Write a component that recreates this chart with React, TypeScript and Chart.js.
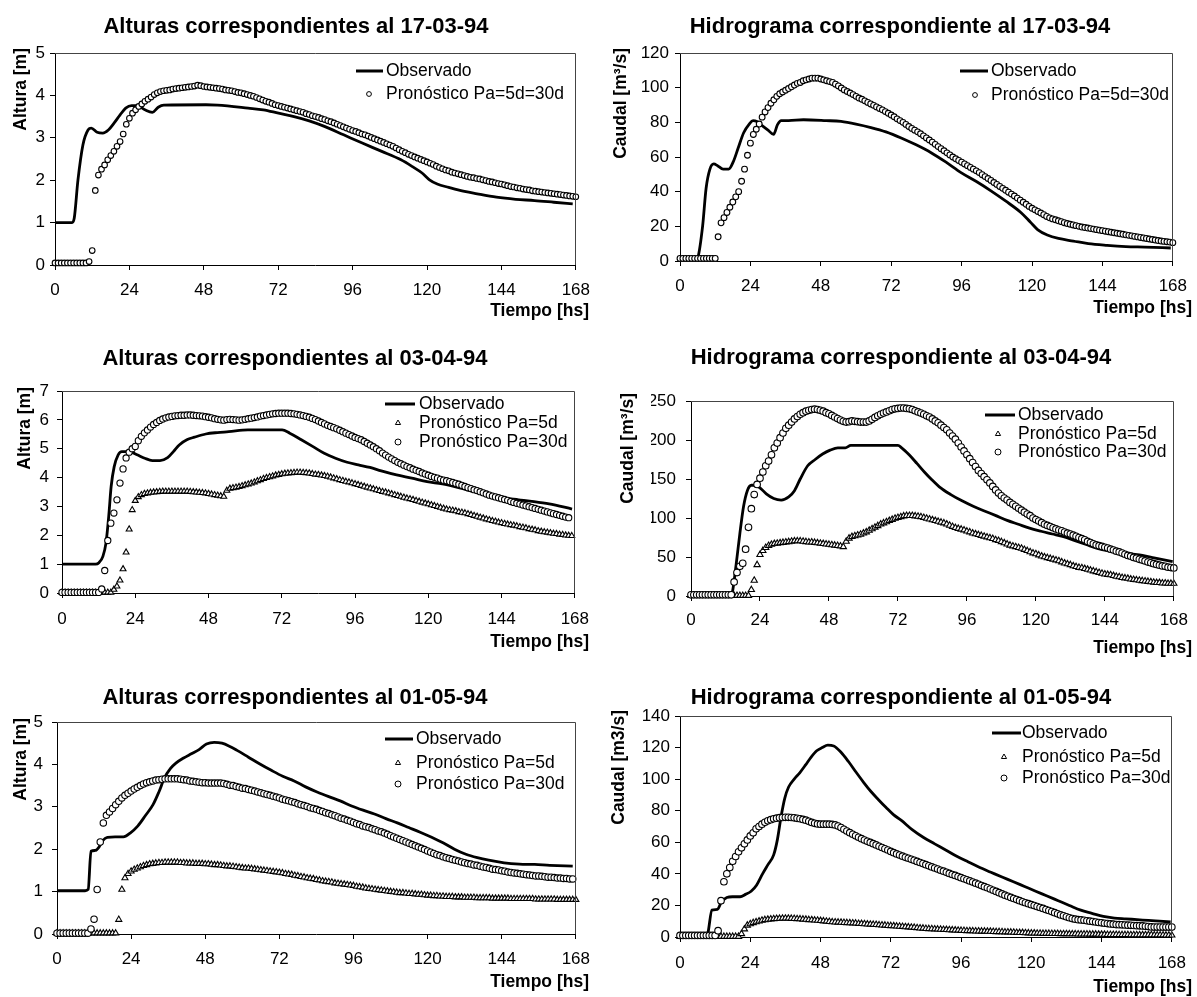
import React, { useEffect, useRef } from "react";
import { Chart, registerables } from "chart.js";

Chart.register(...registerables);

const FONT = '"Liberation Sans", Arial, Helvetica, sans-serif';

// hourly time axis (categories) used by the forecast series
const HOURS = Array.from({ length: 169 }, (_, i) => i);

const TITLES = [
  "Alturas correspondientes al 17-03-94",
  "Hidrograma correspondiente al 17-03-94",
  "Alturas correspondientes al 03-04-94",
  "Hidrograma correspondiente al 03-04-94",
  "Alturas correspondientes al 01-05-94",
  "Hidrograma correspondiente al 01-05-94",
];
const Y_TITLES = ["Altura [m]", "Caudal [m³/s]", "Altura [m]", "Caudal [m³/s]", "Altura [m]", "Caudal [m3/s]"];
const X_TITLE = "Tiempo [hs]";
const LBL_OBS = "Observado";
const LBL_BOTH = "Pronóstico Pa=5d=30d";
const LBL_5D = "Pronóstico Pa=5d";
const LBL_30D = "Pronóstico Pa=30d";

// ---------- Chart 1: Alturas 17-03-94 ----------
const obs1Hours = [0, 5.5, 6.2, 7.4, 9.0, 10.7, 11.7, 13.6, 15.4, 17.3, 19.1, 21, 22.8, 24.7, 26.5, 29, 31.4, 33.3, 35.1, 48.7, 52.4, 62.3, 67.2, 72.1, 77.1, 82, 86.9, 93.1, 99.3, 105.4, 111.6, 115.3, 118.4, 120.8, 123.3, 127, 130, 136.2, 142.4, 148.6, 154.7, 160.9, 167];
const obs1Values = [1.0, 1.0, 1.1, 2.0, 2.83, 3.19, 3.23, 3.13, 3.11, 3.19, 3.35, 3.54, 3.7, 3.76, 3.76, 3.66, 3.6, 3.72, 3.77, 3.78, 3.77, 3.7, 3.66, 3.58, 3.5, 3.4, 3.27, 3.07, 2.87, 2.68, 2.48, 2.32, 2.17, 2.01, 1.91, 1.83, 1.77, 1.68, 1.6, 1.55, 1.52, 1.48, 1.44];
const pron1 = [
  0.05, 0.05, 0.05, 0.05, 0.05, 0.05, 0.05, 0.05, 0.05, 0.05, 0.05, 0.08,
  0.34, 1.76, 2.12, 2.26, 2.36, 2.48, 2.58, 2.68, 2.80, 2.91, 3.09, 3.32,
  3.46, 3.58, 3.66, 3.74, 3.80, 3.86, 3.91, 3.96, 4.02, 4.06, 4.09, 4.11,
  4.12, 4.13, 4.15, 4.16, 4.17, 4.18, 4.19, 4.20, 4.21, 4.22, 4.24, 4.23,
  4.21, 4.20, 4.19, 4.18, 4.17, 4.16, 4.15, 4.13, 4.12, 4.11, 4.09, 4.07,
  4.06, 4.04, 4.02, 4.00, 3.98, 3.95, 3.92, 3.89, 3.86, 3.84, 3.81, 3.78,
  3.76, 3.74, 3.72, 3.70, 3.68, 3.66, 3.64, 3.62, 3.60, 3.57, 3.55, 3.52,
  3.50, 3.48, 3.45, 3.43, 3.40, 3.38, 3.35, 3.32, 3.29, 3.26, 3.23, 3.20,
  3.17, 3.15, 3.12, 3.09, 3.07, 3.04, 3.01, 2.98, 2.95, 2.92, 2.89, 2.86,
  2.83, 2.80, 2.76, 2.72, 2.68, 2.65, 2.61, 2.58, 2.55, 2.52, 2.49, 2.46,
  2.43, 2.40, 2.37, 2.33, 2.30, 2.27, 2.24, 2.22, 2.19, 2.17, 2.15, 2.13,
  2.11, 2.09, 2.07, 2.06, 2.04, 2.03, 2.01, 1.99, 1.97, 1.96, 1.94, 1.92,
  1.91, 1.89, 1.87, 1.85, 1.84, 1.82, 1.81, 1.79, 1.78, 1.77, 1.75, 1.74,
  1.73, 1.72, 1.71, 1.70, 1.69, 1.68, 1.67, 1.66, 1.65, 1.64, 1.63, 1.62,
  1.61,
];

// ---------- Chart 2: Hidrograma 17-03-94 ----------
const obs2Hours = [0, 5.7, 6.1, 7.7, 8.9, 10.2, 11.5, 12.8, 14.7, 16.6, 18.1, 19.8, 21.7, 23.6, 24.9, 26.2, 28.1, 30, 31.9, 33.2, 34.5, 37, 42.1, 49.8, 54.9, 60, 65.1, 70.2, 75.4, 80.5, 85.6, 90.7, 95.8, 100.9, 106, 111.1, 116.2, 119.4, 122, 125.2, 129, 134.1, 139.2, 145.6, 152, 158.4, 167.3];
const obs2Values = [1, 1.2, 2, 20, 42, 53, 56, 55, 53, 53, 57, 65, 74, 79, 81, 80.5, 78, 75.5, 73, 78.5, 81, 81, 81.5, 81, 80.5, 79, 77, 74.5, 71, 67, 62.5, 57, 51, 46, 40.5, 34.5, 28, 22.5, 18, 15, 13, 11.5, 10, 9, 8.3, 8, 7.5];
const pron2 = [
  1.5, 1.5, 1.5, 1.5, 1.5, 1.5, 1.5, 1.5, 1.5, 1.5, 1.5, 1.5,
  1.5, 14, 22, 25, 28, 31, 34, 37, 40, 46, 53, 61,
  68, 73, 76, 79, 83, 86, 88.5, 91, 93, 95, 96.5, 97.5,
  98.5, 99.5, 100.5, 101.5, 102.5, 103, 104, 104.5, 105, 105.5, 105.5, 105.5,
  105, 104.5, 104, 103.5, 103, 102, 101, 99.8, 98.7, 97.8, 96.9, 96,
  95, 94, 93.3, 92.4, 91.5, 90.6, 89.8, 88.9, 88, 87.2, 86.2, 85.2,
  84.2, 83.2, 82, 81, 80, 78.8, 77.6, 76.5, 75.5, 74.5, 73.4, 72.2,
  71, 69.8, 68.6, 67.3, 66, 64.8, 63.6, 62.4, 61.2, 60, 59, 58,
  57, 56, 55, 54, 53, 52, 51, 49.8, 48.7, 47.6, 46.5, 45.3,
  44.2, 43, 41.9, 40.8, 39.7, 38.6, 37.5, 36.3, 35.1, 33.9, 32.7, 31.5,
  30.4, 29.5, 28.6, 27.7, 26.7, 25.7, 24.9, 24.3, 23.8, 23.2, 22.7, 22.1,
  21.6, 21.2, 20.8, 20.4, 20, 19.6, 19.3, 19, 18.7, 18.4, 18.1, 17.8,
  17.5, 17.2, 16.9, 16.6, 16.3, 16, 15.7, 15.4, 15.1, 14.8, 14.5, 14.2,
  13.9, 13.6, 13.3, 13, 12.7, 12.4, 12.1, 11.8, 11.5, 11.3, 11.1, 10.9,
  10.6,
];

// ---------- Chart 3: Alturas 03-04-94 ----------
const obs3Hours = [0, 11, 12.1, 13.4, 14.4, 15.3, 16.1, 17.1, 18.4, 19.6, 20.9, 22.8, 24.6, 27.1, 29.6, 32.1, 34.6, 36.5, 38.4, 40.9, 43.4, 47.1, 50.9, 54.6, 60.9, 67.1, 72.1, 74.6, 78.4, 82.1, 85.9, 89.6, 93.4, 97.1, 100.9, 104.6, 109.6, 114.6, 119.6, 124.6, 129.6, 134.6, 139.6, 144.6, 149.6, 154.6, 159.6, 167.1];
const obs3Values = [1.0, 1.0, 1.05, 1.27, 1.73, 2.65, 3.69, 4.38, 4.79, 4.9, 4.9, 4.87, 4.79, 4.67, 4.59, 4.59, 4.69, 4.9, 5.13, 5.31, 5.4, 5.51, 5.56, 5.59, 5.65, 5.65, 5.65, 5.54, 5.31, 5.08, 4.84, 4.67, 4.53, 4.44, 4.35, 4.23, 4.09, 3.98, 3.86, 3.78, 3.66, 3.52, 3.38, 3.29, 3.23, 3.17, 3.09, 2.91];
const pron3_5d = [
  0.02, 0.02, 0.02, 0.02, 0.02, 0.02, 0.02, 0.02, 0.02, 0.02, 0.02, 0.02,
  0.02, 0.02, 0.02, 0.02, 0.02, 0.12, 0.23, 0.44, 0.83, 1.41, 2.21, 2.88,
  3.20, 3.33, 3.40, 3.44, 3.46, 3.48, 3.49, 3.50, 3.51, 3.52, 3.52, 3.52,
  3.52, 3.52, 3.52, 3.52, 3.52, 3.52, 3.51, 3.50, 3.49, 3.48, 3.47, 3.46,
  3.44, 3.42, 3.40, 3.38, 3.36, 3.34, 3.55, 3.62, 3.64, 3.66, 3.68, 3.71,
  3.74, 3.77, 3.80, 3.84, 3.88, 3.92, 3.96, 3.99, 4.02, 4.05, 4.08, 4.10,
  4.12, 4.14, 4.15, 4.16, 4.17, 4.18, 4.18, 4.17, 4.16, 4.15, 4.13, 4.11,
  4.10, 4.08, 4.06, 4.04, 4.01, 3.98, 3.95, 3.92, 3.89, 3.86, 3.84, 3.81,
  3.78, 3.75, 3.72, 3.69, 3.66, 3.63, 3.60, 3.57, 3.54, 3.51, 3.49, 3.46,
  3.43, 3.40, 3.37, 3.34, 3.31, 3.28, 3.26, 3.23, 3.20, 3.17, 3.14, 3.11,
  3.08, 3.05, 3.02, 2.99, 2.96, 2.93, 2.90, 2.88, 2.86, 2.84, 2.81, 2.79,
  2.77, 2.74, 2.71, 2.68, 2.65, 2.62, 2.59, 2.56, 2.53, 2.50, 2.48, 2.45,
  2.43, 2.40, 2.38, 2.36, 2.34, 2.32, 2.29, 2.27, 2.25, 2.22, 2.20, 2.18,
  2.15, 2.13, 2.11, 2.10, 2.08, 2.06, 2.05, 2.03, 2.02, 2.00, 1.99, 1.98,
];
const pron3_30d = [
  0.02, 0.02, 0.02, 0.02, 0.02, 0.02, 0.02, 0.02, 0.02, 0.02, 0.02, 0.02,
  0.02, 0.14, 0.78, 1.82, 2.42, 2.77, 3.23, 3.81, 4.30, 4.68, 4.88, 5.00,
  5.08, 5.28, 5.43, 5.55, 5.65, 5.75, 5.84, 5.91, 5.98, 6.03, 6.07, 6.10,
  6.12, 6.14, 6.15, 6.16, 6.16, 6.17, 6.17, 6.16, 6.15, 6.14, 6.13, 6.11,
  6.09, 6.07, 6.04, 6.02, 6.00, 5.99, 6.01, 6.02, 6.01, 6.00, 5.99, 6.00,
  6.02, 6.04, 6.06, 6.08, 6.10, 6.13, 6.15, 6.17, 6.19, 6.21, 6.22, 6.23,
  6.23, 6.23, 6.23, 6.22, 6.21, 6.19, 6.17, 6.15, 6.12, 6.09, 6.05, 6.01,
  5.96, 5.91, 5.86, 5.81, 5.77, 5.73, 5.69, 5.64, 5.59, 5.54, 5.49, 5.44,
  5.39, 5.35, 5.31, 5.25, 5.19, 5.13, 5.07, 5.00, 4.93, 4.85, 4.78, 4.71,
  4.65, 4.59, 4.53, 4.48, 4.43, 4.38, 4.34, 4.29, 4.25, 4.21, 4.16, 4.12,
  4.08, 4.04, 4.01, 3.98, 3.94, 3.91, 3.89, 3.86, 3.83, 3.80, 3.77, 3.73,
  3.69, 3.65, 3.62, 3.58, 3.55, 3.51, 3.47, 3.43, 3.39, 3.36, 3.33, 3.30,
  3.27, 3.24, 3.21, 3.17, 3.14, 3.11, 3.08, 3.05, 3.02, 2.99, 2.96, 2.93,
  2.90, 2.87, 2.84, 2.81, 2.78, 2.75, 2.72, 2.69, 2.66, 2.63, 2.61,
];

// ---------- Chart 4: Hidrograma 03-04-94 ----------
const obs4Hours = [0, 13.7, 14.4, 15.7, 17, 18.3, 19.6, 21, 22.3, 24.2, 26.2, 28.8, 31.4, 34, 36, 38, 40.6, 43.2, 45.8, 48.4, 51.1, 53.7, 55.6, 60.2, 66.8, 72, 73.3, 75.9, 78.6, 81.2, 83.8, 86.4, 90.4, 94.3, 98.2, 102.1, 106.1, 110, 113.9, 117.8, 121.8, 125.7, 129.6, 133.6, 137.5, 141.4, 145.3, 149.3, 153.2, 157.1, 161.1, 165, 167.6];
const obs4Values = [0.5, 0.5, 5, 40, 80, 115, 135, 142, 142, 138, 131, 125, 123, 127, 135, 150, 167, 175, 182, 187, 190, 190, 193, 193, 193, 193, 190, 181, 170, 159, 149, 140, 130, 122, 115, 109, 103, 97, 92, 87, 83, 79.5, 76, 71, 66, 61, 58, 56, 54, 52, 49, 46, 44];
const pron4_5d = [
  0.5, 0.5, 0.5, 0.5, 0.5, 0.5, 0.5, 0.5, 0.5, 0.5, 0.5, 0.5,
  0.5, 0.5, 0.5, 0.5, 0.5, 0.5, 0.5, 0.5, 0.5, 8, 20, 40,
  53, 58, 62, 64.5, 66, 67, 67.5, 68, 68.5, 69, 69.5, 70,
  70.5, 70.5, 70.5, 70, 69.5, 69, 69, 68.5, 68, 67.5, 67, 66.5,
  66, 65.5, 65, 64.5, 64, 63, 70, 74, 76, 77, 78, 79,
  80.5, 82, 84, 86, 88, 90, 92, 93.5, 95, 96.5, 98, 99.5,
  100.5, 101.5, 102.5, 103, 103, 103, 102.5, 102, 101.5, 100.5, 99.5, 98.5,
  97.5, 96.5, 95.5, 94.5, 93.5, 92, 90.5, 89, 87.5, 86.5, 85.5, 84.5,
  83, 82, 80.5, 79.5, 78.5, 77.5, 76.5, 75.5, 74.5, 73.5, 72, 71,
  69.5, 68, 66.5, 65, 64, 63, 62, 61, 59.5, 58, 56.5, 55,
  54, 52.5, 51, 50, 49, 48, 47, 46, 45, 43.5, 42, 41,
  40, 38.5, 37.5, 36.5, 36, 35, 34, 33, 32, 31, 30, 29,
  28, 27.5, 27, 26, 25, 24.5, 23.5, 23, 22.5, 21.5, 21, 20.5,
  20, 19.5, 19, 18.5, 18, 17.5, 17, 17, 16.5, 16.5, 16, 16,
  16,
];
const pron4_30d = [
  1.5, 1.5, 1.5, 1.5, 1.5, 1.5, 1.5, 1.5, 1.5, 1.5, 1.5, 1.5,
  1.5, 1.5, 1.5, 18, 30, 38, 42, 60, 88, 112, 130, 143,
  151, 159, 167, 173, 181, 190, 196, 203, 209, 215, 219, 223,
  227, 230, 233, 235, 237, 238, 239, 239.5, 239, 238, 237, 235,
  233.5, 231.5, 229.5, 227.5, 225.5, 224, 223, 223.5, 224.5, 224, 223.5, 223,
  223, 223, 224.5, 226.5, 229, 231, 233, 234.5, 236, 237.5, 239, 240,
  240.5, 241, 241, 240.5, 240, 239, 237.5, 236, 234.5, 233, 231, 229.5,
  227, 224.5, 222, 219, 216, 213, 209, 205, 201, 196, 191, 186,
  181, 176, 171, 166, 161, 157, 153, 149, 145, 140.5, 136, 132,
  128.5, 125.5, 123, 120, 117.5, 115, 112.5, 110, 107.5, 105, 103, 100,
  98, 96, 94, 92, 90.5, 89, 87.5, 86, 84.5, 83.5, 82, 80.5,
  79.5, 78, 76.5, 75, 73.5, 72, 70, 68.5, 67, 65.5, 64.5, 63.5,
  62.5, 61.5, 60, 59, 57.5, 56.5, 55, 53.5, 52, 51, 49.5, 48.5,
  47, 46, 45, 43.5, 42.5, 41.5, 40.5, 39.5, 38.5, 38, 37, 36.5,
  36,
];

// ---------- Chart 5: Alturas 01-05-94 ----------
const obs5Hours = [0, 9.1, 10.1, 11, 12.4, 13.6, 14.8, 16.3, 18.8, 21.5, 23.7, 26.2, 28.7, 31.1, 33, 34.8, 36.7, 38.5, 41, 43.5, 46, 48.4, 50.9, 53.4, 55.8, 58.3, 62, 65.7, 69.4, 73.1, 76.8, 80.5, 84.2, 88, 91.7, 95.4, 99.1, 102.8, 106.5, 110.2, 113.9, 117.6, 121.3, 125, 128.7, 132.4, 136.1, 139.8, 144.8, 149.7, 154.7, 159.6, 167];
const obs5Values = [1.02, 1.02, 1.05, 1.95, 1.97, 2.05, 2.2, 2.28, 2.29, 2.29, 2.38, 2.55, 2.8, 3.05, 3.35, 3.68, 3.9, 4.03, 4.15, 4.25, 4.35, 4.48, 4.52, 4.5, 4.43, 4.33, 4.17, 4.01, 3.86, 3.72, 3.61, 3.47, 3.35, 3.24, 3.14, 3.02, 2.92, 2.83, 2.72, 2.62, 2.51, 2.4, 2.28, 2.15, 2.0, 1.88, 1.8, 1.74, 1.68, 1.65, 1.64, 1.62, 1.6];
const pron5_5d = [
  0.02, 0.02, 0.02, 0.02, 0.02, 0.02, 0.02, 0.02, 0.02, 0.02, 0.02, 0.02,
  0.02, 0.02, 0.02, 0.02, 0.02, 0.02, 0.02, 0.02, 0.34, 1.05, 1.32, 1.42,
  1.48, 1.52, 1.55, 1.58, 1.61, 1.63, 1.65, 1.66, 1.67, 1.68, 1.68, 1.69,
  1.69, 1.69, 1.69, 1.69, 1.68, 1.68, 1.67, 1.67, 1.67, 1.66, 1.66, 1.66,
  1.65, 1.65, 1.64, 1.63, 1.63, 1.62, 1.61, 1.60, 1.60, 1.59, 1.58, 1.57,
  1.56, 1.55, 1.55, 1.54, 1.53, 1.52, 1.51, 1.50, 1.49, 1.48, 1.47, 1.46,
  1.45, 1.44, 1.42, 1.41, 1.40, 1.38, 1.37, 1.35, 1.34, 1.32, 1.31, 1.30,
  1.28, 1.27, 1.25, 1.24, 1.23, 1.22, 1.20, 1.19, 1.18, 1.17, 1.16, 1.15,
  1.14, 1.12, 1.11, 1.10, 1.08, 1.07, 1.06, 1.05, 1.04, 1.03, 1.02, 1.01,
  1.00, 0.99, 0.98, 0.97, 0.97, 0.96, 0.95, 0.95, 0.94, 0.93, 0.93, 0.92,
  0.91, 0.91, 0.90, 0.90, 0.89, 0.89, 0.88, 0.88, 0.88, 0.87, 0.87, 0.87,
  0.86, 0.86, 0.86, 0.86, 0.85, 0.85, 0.85, 0.85, 0.85, 0.84, 0.84, 0.84,
  0.84, 0.84, 0.84, 0.83, 0.83, 0.83, 0.83, 0.83, 0.83, 0.83, 0.83, 0.82,
  0.82, 0.82, 0.82, 0.82, 0.82, 0.82, 0.81, 0.81, 0.81, 0.81, 0.81, 0.81,
  0.81,
];
const pron5_30d = [
  0.02, 0.02, 0.02, 0.02, 0.02, 0.02, 0.02, 0.02, 0.02, 0.02, 0.02, 0.12,
  0.35, 1.05, 2.17, 2.62, 2.80, 2.88, 2.96, 3.05, 3.13, 3.21, 3.27, 3.32,
  3.37, 3.42, 3.46, 3.50, 3.54, 3.57, 3.59, 3.61, 3.63, 3.64, 3.65, 3.66,
  3.66, 3.66, 3.66, 3.66, 3.65, 3.64, 3.63, 3.61, 3.60, 3.59, 3.58, 3.57,
  3.57, 3.56, 3.56, 3.56, 3.56, 3.56, 3.55, 3.53, 3.51, 3.50, 3.48, 3.46,
  3.44, 3.43, 3.41, 3.39, 3.37, 3.35, 3.33, 3.31, 3.29, 3.27, 3.25, 3.23,
  3.21, 3.18, 3.16, 3.14, 3.12, 3.10, 3.07, 3.05, 3.03, 3.01, 2.98, 2.96,
  2.94, 2.91, 2.89, 2.86, 2.84, 2.81, 2.79, 2.76, 2.73, 2.71, 2.68, 2.66,
  2.63, 2.60, 2.58, 2.55, 2.53, 2.51, 2.48, 2.46, 2.43, 2.41, 2.38, 2.35,
  2.32, 2.29, 2.26, 2.23, 2.20, 2.17, 2.14, 2.11, 2.08, 2.05, 2.02, 1.99,
  1.96, 1.93, 1.90, 1.87, 1.85, 1.82, 1.80, 1.78, 1.76, 1.74, 1.72, 1.70,
  1.68, 1.66, 1.65, 1.63, 1.62, 1.60, 1.58, 1.57, 1.55, 1.53, 1.52, 1.51,
  1.49, 1.48, 1.46, 1.45, 1.44, 1.43, 1.42, 1.41, 1.40, 1.39, 1.38, 1.37,
  1.37, 1.36, 1.35, 1.34, 1.34, 1.33, 1.32, 1.32, 1.31, 1.31, 1.30, 1.30,
];

// ---------- Chart 6: Hidrograma 01-05-94 ----------
const obs6Hours = [0, 9.2, 9.6, 10.9, 12.8, 14.1, 16, 17.9, 20.5, 22.4, 24.3, 26.2, 28.2, 30.1, 32, 33.3, 34.5, 35.8, 37.1, 39, 40.9, 42.9, 44.8, 46.7, 48.6, 50.5, 52.5, 55, 57.6, 60.1, 62.7, 65.3, 67.8, 70.4, 72.9, 75.5, 79.3, 83.2, 87, 90.9, 94.7, 98.5, 102.4, 106.2, 110, 113.9, 117.7, 121.5, 125.4, 129.2, 133, 136.9, 140.7, 144.6, 148.4, 152.3, 156.1, 160, 163.8, 167.6];
const obs6Values = [0.5, 0.5, 3, 17, 17.5, 22, 25, 25.5, 25.5, 27, 29, 33, 40, 46, 52, 62, 76, 88, 95, 100, 104, 109, 114, 118, 120, 121.5, 121, 117, 111, 104.5, 98, 92, 87, 82, 77.5, 74, 68, 63, 59, 55, 51, 47.5, 44, 41, 38, 35, 32, 29, 26, 23, 20, 17, 15, 13, 12, 11.5, 11, 10.5, 10, 9.5];
const pron6_5d = [
  0.3, 0.3, 0.3, 0.3, 0.3, 0.3, 0.3, 0.3, 0.3, 0.3, 0.3, 0.3,
  0.3, 0.3, 0.3, 0.3, 0.3, 0.3, 0.3, 0.3, 0.3, 2, 5, 7.4,
  8.3, 9, 9.5, 10, 10.5, 10.9, 11.1, 11.3, 11.5, 11.6, 11.7, 11.8,
  11.8, 11.8, 11.7, 11.6, 11.5, 11.4, 11.2, 11.1, 10.9, 10.8, 10.6, 10.5,
  10.3, 10.1, 9.9, 9.7, 9.5, 9.4, 9.3, 9.2, 9.1, 9, 8.9, 8.8,
  8.7, 8.5, 8.4, 8.3, 8.1, 8, 7.9, 7.8, 7.6, 7.5, 7.4, 7.2,
  7.1, 7, 6.8, 6.7, 6.6, 6.4, 6.3, 6.1, 6, 5.8, 5.6, 5.5,
  5.3, 5.2, 5.1, 5, 4.9, 4.8, 4.7, 4.6, 4.5, 4.4, 4.3, 4.2,
  4.1, 4, 3.9, 3.9, 3.8, 3.7, 3.7, 3.6, 3.6, 3.5, 3.5, 3.4,
  3.3, 3.3, 3.2, 3.1, 3.1, 3, 2.9, 2.8, 2.7, 2.7, 2.6, 2.5,
  2.4, 2.4, 2.3, 2.3, 2.2, 2.2, 2.2, 2.1, 2.1, 2.1, 2, 2,
  2, 1.9, 1.9, 1.9, 1.8, 1.8, 1.8, 1.8, 1.7, 1.7, 1.7, 1.6,
  1.6, 1.6, 1.5, 1.5, 1.5, 1.5, 1.4, 1.4, 1.4, 1.4, 1.3, 1.3,
  1.3, 1.3, 1.3, 1.3, 1.3, 1.3, 1.2, 1.2, 1.2, 1.2, 1.1, 1.1,
  1.1,
];
const pron6_30d = [
  1, 1, 1, 1, 1, 1, 1, 1, 1, 1, 1, 1,
  1, 4, 23, 35, 40, 44, 48, 51, 54, 56.5, 59, 61.5,
  64, 66, 68.5, 70, 71.5, 72.7, 73.6, 74.3, 74.9, 75.3, 75.6, 75.7,
  75.8, 75.8, 75.7, 75.5, 75.2, 74.9, 74.5, 74, 73.3, 72.6, 72, 71.6,
  71.5, 71.5, 71.5, 71.5, 71.3, 71, 70.3, 69.3, 68.2, 67.1, 66.1, 65.1,
  64.1, 63.2, 62.3, 61.4, 60.6, 59.9, 59.1, 58.3, 57.5, 56.7, 55.9, 55.1,
  54.2, 53.4, 52.6, 51.9, 51.2, 50.5, 49.9, 49.2, 48.6, 47.9, 47.2, 46.5,
  45.8, 45.1, 44.4, 43.7, 43, 42.3, 41.7, 41, 40.3, 39.6, 39, 38.3,
  37.6, 36.9, 36.2, 35.5, 34.8, 34.1, 33.4, 32.6, 31.9, 31.2, 30.4, 29.6,
  28.9, 28.1, 27.3, 26.5, 25.8, 25.1, 24.4, 23.7, 23, 22.3, 21.7, 21.1,
  20.5, 19.9, 19.3, 18.7, 18.1, 17.4, 16.8, 16.1, 15.4, 14.7, 14, 13.4,
  12.8, 12.2, 11.7, 11.3, 11, 10.8, 10.6, 10.3, 10, 9.8, 9.5, 9.2,
  9, 8.7, 8.5, 8.3, 8.1, 7.9, 7.8, 7.7, 7.6, 7.5, 7.4, 7.3,
  7.2, 7.1, 7, 6.8, 6.6, 6.4, 6.3, 6.3, 6.3, 6.3, 6.3, 6.3,
  6.3,
];

type Kind = "line" | "circle" | "triangle";
interface Series { label: string; kind: Kind; hours: number[]; values: number[]; }
interface Spec { title: string; yTitle: string; yMax: number; yStep: number; series: Series[]; }

const CHARTS: Spec[] = [
  { title: TITLES[0], yTitle: Y_TITLES[0], yMax: 5, yStep: 1, series: [
    { label: LBL_OBS, kind: "line", hours: obs1Hours, values: obs1Values },
    { label: LBL_BOTH, kind: "circle", hours: HOURS, values: pron1 },
  ] },
  { title: TITLES[1], yTitle: Y_TITLES[1], yMax: 120, yStep: 20, series: [
    { label: LBL_OBS, kind: "line", hours: obs2Hours, values: obs2Values },
    { label: LBL_BOTH, kind: "circle", hours: HOURS, values: pron2 },
  ] },
  { title: TITLES[2], yTitle: Y_TITLES[2], yMax: 7, yStep: 1, series: [
    { label: LBL_OBS, kind: "line", hours: obs3Hours, values: obs3Values },
    { label: LBL_5D, kind: "triangle", hours: HOURS, values: pron3_5d },
    { label: LBL_30D, kind: "circle", hours: HOURS, values: pron3_30d },
  ] },
  { title: TITLES[3], yTitle: Y_TITLES[3], yMax: 250, yStep: 50, series: [
    { label: LBL_OBS, kind: "line", hours: obs4Hours, values: obs4Values },
    { label: LBL_5D, kind: "triangle", hours: HOURS, values: pron4_5d },
    { label: LBL_30D, kind: "circle", hours: HOURS, values: pron4_30d },
  ] },
  { title: TITLES[4], yTitle: Y_TITLES[4], yMax: 5, yStep: 1, series: [
    { label: LBL_OBS, kind: "line", hours: obs5Hours, values: obs5Values },
    { label: LBL_5D, kind: "triangle", hours: HOURS, values: pron5_5d },
    { label: LBL_30D, kind: "circle", hours: HOURS, values: pron5_30d },
  ] },
  { title: TITLES[5], yTitle: Y_TITLES[5], yMax: 140, yStep: 20, series: [
    { label: LBL_OBS, kind: "line", hours: obs6Hours, values: obs6Values },
    { label: LBL_5D, kind: "triangle", hours: HOURS, values: pron6_5d },
    { label: LBL_30D, kind: "circle", hours: HOURS, values: pron6_30d },
  ] },
];

// page-coordinate layout for each panel (positions / styles only)
interface Layout {
  region: [number, number, number, number];
  area: [number, number, number, number];
  titleXY: [number, number];
  xTitleXY: [number, number];
  yTitleXY: [number, number];
  yTickPad: number;
  xTickPad: number;
  pointR: number;
  legend: { lineX: [number, number]; textX: number; markX: number; rows: number[]; markR: number };
}
const LAYOUTS: Layout[] = [
  { region: [0, 0, 600, 330], area: [55, 53, 577, 265], titleXY: [296, 27], xTitleXY: [589, 311], yTitleXY: [21, 48], yTickPad: 5, xTickPad: 10, pointR: 2.8,
    legend: { lineX: [356, 383], textX: 386, markX: 369, rows: [71, 94], markR: 2.4 } },
  { region: [600, 0, 597, 330], area: [680, 53, 1181, 261], titleXY: [900, 27], xTitleXY: [1192, 308], yTitleXY: [621, 48], yTickPad: 6, xTickPad: 10, pointR: 2.9,
    legend: { lineX: [960, 988], textX: 991, markX: 975, rows: [71, 95], markR: 2.4 } },
  { region: [0, 330, 600, 330], area: [62, 391, 577, 593], titleXY: [295, 359], xTitleXY: [589, 642], yTitleXY: [25, 387], yTickPad: 8, xTickPad: 11, pointR: 3.1,
    legend: { lineX: [385, 415], textX: 419, markX: 398, rows: [404, 423, 442], markR: 3 } },
  { region: [600, 330, 597, 330], area: [691, 401, 1180, 596], titleXY: [901, 358], xTitleXY: [1192, 648], yTitleXY: [628, 393], yTickPad: 10, xTickPad: 9, pointR: 3.3,
    legend: { lineX: [985, 1015], textX: 1018, markX: 998, rows: [415, 434, 452], markR: 3 } },
  { region: [0, 660, 600, 337], area: [57, 722, 577, 934], titleXY: [295, 698], xTitleXY: [589, 982], yTitleXY: [21, 718], yTickPad: 9, xTickPad: 10, pointR: 3.2,
    legend: { lineX: [385, 413], textX: 416, markX: 398, rows: [739, 763, 784], markR: 3 } },
  { region: [600, 660, 597, 337], area: [680, 716, 1180, 937], titleXY: [901, 698], xTitleXY: [1192, 987], yTitleXY: [619, 710], yTickPad: 5, xTickPad: 11, pointR: 3.3,
    legend: { lineX: [992, 1021], textX: 1022, markX: 1004, rows: [733, 757, 778], markR: 3 } },
];

function drawMarker(ctx: CanvasRenderingContext2D, kind: Kind, x: number, y: number, r: number) {
  ctx.beginPath();
  if (kind === "circle") {
    ctx.arc(x, y, r, 0, Math.PI * 2);
  } else {
    const a = (2 * Math.PI) / 3;
    ctx.moveTo(x, y - r);
    ctx.lineTo(x + Math.sin(a) * r, y - Math.cos(a) * r);
    ctx.lineTo(x + Math.sin(2 * a) * r, y - Math.cos(2 * a) * r);
    ctx.closePath();
  }
  ctx.fillStyle = "#fff";
  ctx.fill();
  ctx.lineWidth = 1;
  ctx.strokeStyle = "#000";
  ctx.stroke();
}

function Panel({ spec, layout }: { spec: Spec; layout: Layout }) {
  const ref = useRef<HTMLCanvasElement | null>(null);
  const [cx, cy, cw, ch] = layout.region;

  useEffect(() => {
    if (!ref.current) return;
    const [L, T, R, B] = layout.area;
    const YW = 40;
    const XH = 40;

    const datasets: any[] = spec.series.map((s) => {
      const data = s.values.map((v, k) => ({ x: s.hours[k], y: v }));
      if (s.kind === "line") {
        return {
          label: s.label, data, borderColor: "#000", borderWidth: 2.8, pointRadius: 0,
          fill: false, cubicInterpolationMode: "monotone", order: 3, clip: false,
          borderJoinStyle: "round",
        };
      }
      return {
        label: s.label, data, showLine: false, pointStyle: s.kind,
        pointRadius: s.kind === "triangle" ? layout.pointR + 0.3 : layout.pointR,
        pointBorderWidth: 1.1, pointBorderColor: "#000", pointBackgroundColor: "#fff",
        borderColor: "#000", backgroundColor: "#fff", order: s.kind === "triangle" ? 2 : 1, clip: false,
      };
    });

    const decor = {
      id: "decor",
      afterDraw(chart: any) {
        const ctx: CanvasRenderingContext2D = chart.ctx;
        const a = chart.chartArea;
        ctx.save();
        // top & right frame
        ctx.strokeStyle = "#444";
        ctx.lineWidth = 1;
        ctx.beginPath();
        const ty = Math.round(a.top) + 0.5;
        const rx = Math.round(a.right) - 0.5;
        ctx.moveTo(a.left, ty);
        ctx.lineTo(rx, ty);
        ctx.lineTo(rx, a.bottom);
        ctx.stroke();

        ctx.fillStyle = "#000";
        // title
        ctx.font = `bold 22px ${FONT}`;
        ctx.textAlign = "center";
        ctx.textBaseline = "middle";
        ctx.fillText(spec.title, layout.titleXY[0] - cx, layout.titleXY[1] - cy);
        // x axis title
        ctx.font = `bold 17.5px ${FONT}`;
        ctx.textAlign = "right";
        ctx.fillText(X_TITLE, layout.xTitleXY[0] - cx, layout.xTitleXY[1] - cy);
        // y axis title (rotated, top aligned)
        ctx.save();
        ctx.translate(layout.yTitleXY[0] - cx, layout.yTitleXY[1] - cy);
        ctx.rotate(-Math.PI / 2);
        ctx.textAlign = "right";
        ctx.textBaseline = "middle";
        ctx.fillText(spec.yTitle, 0, 0);
        ctx.restore();

        // legend
        const lg = layout.legend;
        ctx.font = `17.5px ${FONT}`;
        ctx.textAlign = "left";
        ctx.textBaseline = "middle";
        spec.series.forEach((s, i) => {
          const y = lg.rows[i] - cy;
          if (s.kind === "line") {
            ctx.beginPath();
            ctx.strokeStyle = "#000";
            ctx.lineWidth = 3;
            ctx.moveTo(lg.lineX[0] - cx, y);
            ctx.lineTo(lg.lineX[1] - cx, y);
            ctx.stroke();
          } else {
            drawMarker(ctx, s.kind, lg.markX - cx, y, lg.markR);
          }
          ctx.fillStyle = "#000";
          ctx.fillText(s.label, lg.textX - cx, y + 0.5);
        });
        ctx.restore();
      },
    };

    const tickFont = { family: FONT, size: 17 };
    const chart = new Chart(ref.current, {
      type: "line",
      data: { datasets },
      options: {
        animation: false,
        responsive: false,
        devicePixelRatio: 1,
        events: [],
        layout: { padding: { left: L - cx - YW, top: T - cy, right: cx + cw - R, bottom: cy + ch - B - XH } },
        plugins: { legend: { display: false }, tooltip: { enabled: false }, title: { display: false } },
        scales: {
          x: {
            type: "linear", min: 0, max: 168,
            afterFit: (s: any) => { s.height = XH; },
            ticks: { stepSize: 24, font: tickFont, color: "#000", padding: layout.xTickPad, maxRotation: 0, autoSkip: false },
            grid: { display: true, drawOnChartArea: false, drawTicks: true, tickLength: 5, color: "#000", lineWidth: 1 },
            border: { display: true, color: "#000", width: 1 },
          },
          y: {
            type: "linear", min: 0, max: spec.yMax,
            afterFit: (s: any) => { s.width = YW; },
            ticks: { stepSize: spec.yStep, font: tickFont, color: "#000", padding: layout.yTickPad },
            grid: { display: true, drawOnChartArea: false, drawTicks: true, tickLength: 5, color: "#000", lineWidth: 1 },
            border: { display: true, color: "#000", width: 1 },
          },
        },
      } as any,
      plugins: [decor],
    });
    return () => chart.destroy();
  }, []);

  return (
    <canvas
      ref={ref}
      width={cw}
      height={ch}
      style={{ position: "absolute", left: cx, top: cy, width: cw, height: ch }}
    />
  );
}

export default function App() {
  return (
    <div style={{ position: "absolute", left: 0, top: 0, width: 1197, height: 997, background: "#fff", overflow: "hidden" }}>
      {CHARTS.map((spec, i) => (
        <Panel key={i} spec={spec} layout={LAYOUTS[i]} />
      ))}
    </div>
  );
}
